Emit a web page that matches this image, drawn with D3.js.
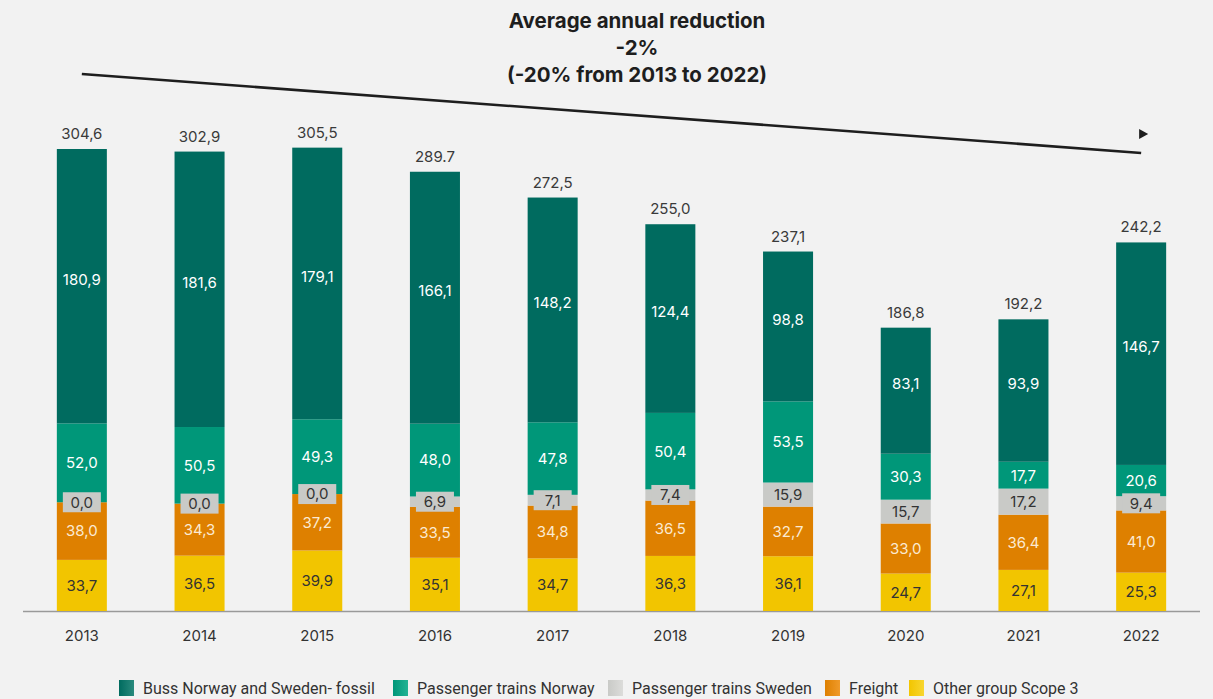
<!DOCTYPE html>
<html><head><meta charset="utf-8">
<script src="https://cdn.jsdelivr.net/npm/d3@7"></script>
<style>
html,body{margin:0;padding:0;background:#f2f2f2;}
svg{display:block;}
</style></head>
<body>
<svg id="chart" width="1213" height="699"></svg>
<script>
const years = ["2013","2014","2015","2016","2017","2018","2019","2020","2021","2022"];
const buss = [180.9,181.6,179.1,166.1,148.2,124.4,98.8,83.1,93.9,146.7];
const trainsNorway = [52.0,50.5,49.3,48.0,47.8,50.4,53.5,30.3,17.7,20.6];
const trainsSweden = [0.0,0.0,0.0,6.9,7.1,7.4,15.9,15.7,17.2,9.4];
const freight = [38.0,34.3,37.2,33.5,34.8,36.5,32.7,33.0,36.4,41.0];
const otherScope3 = [33.7,36.5,39.9,35.1,34.7,36.3,36.1,24.7,27.1,25.3];
const totalLabels = ["304,6","302,9","305,5","289.7","272,5","255,0","237,1","186,8","192,2","242,2"];
const seriesNames = ["Buss Norway and Sweden- fossil","Passenger trains Norway","Passenger trains Sweden","Freight","Other group Scope 3"];
const titleLines = ["Average annual reduction","-2%","(-20% from 2013 to 2022)"];
const trendValues = [354, 302]; // annotation line, in chart units (2013 -> 2022)

const colors = ["#006b5f","#009779","#c9cac7","#de8000","#f2c500"];
const colorsLight = ["#2a8a7d","#22b394","#dcdcda","#f09a2a","#f8d630"];
const labelColors = ["#ffffff","#ffffff","#333333","#fbead2","#333333"];

const fmt = v => v.toFixed(1).replace(".", ",");

const svg = d3.select("#chart");
const baseY = 611;
const x = d3.scaleBand().domain(years).range([23, 1200]).paddingInner(0.575).paddingOuter(0.2875);
const y = d3.scaleLinear().domain([0, 304.6]).range([baseY, 149]);

const rows = years.map((yr,i)=>({year:yr, s0:buss[i], s1:trainsNorway[i], s2:trainsSweden[i], s3:freight[i], s4:otherScope3[i]}));
const stack = d3.stack().keys(["s4","s3","s2","s1","s0"])(rows);

const defs = svg.append("defs");
colors.forEach((c,i)=>{
  const g = defs.append("linearGradient").attr("id","lg"+i).attr("x1","0").attr("x2","1").attr("y1","0").attr("y2","0");
  g.append("stop").attr("offset","0").attr("stop-color",c);
  g.append("stop").attr("offset","1").attr("stop-color",colorsLight[i]);
});

svg.append("line").attr("x1",23).attr("x2",1200).attr("y1",baseY+0.5).attr("y2",baseY+0.5)
  .attr("stroke","#9a9a9a").attr("stroke-width",1.5);

const keyIndex = {s0:0,s1:1,s2:2,s3:3,s4:4};
stack.forEach(layer=>{
  const k = keyIndex[layer.key];
  svg.append("g").selectAll("rect").data(layer).join("rect")
    .attr("x", d=>x(d.data.year))
    .attr("width", x.bandwidth())
    .attr("y", d=>y(d[1]))
    .attr("height", d=>Math.max(0, y(d[0])-y(d[1])))
    .attr("fill", colors[k]);
});

stack.forEach(layer=>{
  const k = keyIndex[layer.key];
  const g = svg.append("g");
  layer.forEach(d=>{
    const cx = x(d.data.year)+x.bandwidth()/2;
    let cy = (y(d[0])+y(d[1]))/2;
    if (k===0) cy -= 7;
    const v = d[1]-d[0];
    if (k===2) {
      g.append("rect").attr("x",cx-19).attr("y",cy-10).attr("width",38).attr("height",20).attr("fill",colors[2]);
    }
    g.append("text").attr("x",cx).attr("y",cy).attr("dy","0.36em")
      .attr("text-anchor","middle").attr("font-family","Inter, sans-serif").attr("font-size",15)
      .attr("fill",labelColors[k]).text(fmt(v));
  });
});

svg.append("g").selectAll("text").data(rows).join("text")
  .attr("x", d=>x(d.year)+x.bandwidth()/2)
  .attr("y", d=>y(d.s0+d.s1+d.s2+d.s3+d.s4)-10)
  .attr("text-anchor","middle").attr("font-family","Inter, sans-serif").attr("font-size",15)
  .attr("fill","#3a3a3a").text((d,i)=>totalLabels[i]);

const xAxis = d3.axisBottom(x).tickSize(0).tickPadding(19);
const ax = svg.append("g").attr("transform",`translate(0,${baseY})`).call(xAxis);
ax.select(".domain").remove();
ax.selectAll("text").attr("font-family","Inter, sans-serif").attr("font-size",15).attr("fill","#333");

svg.append("g").selectAll("text").data(titleLines).join("text")
  .attr("x",637).attr("y",(d,i)=>28+i*27)
  .attr("text-anchor","middle").attr("font-family","Inter, sans-serif").attr("font-weight",700)
  .attr("font-size",20.5).attr("fill","#1e1e1e").text(d=>d);

const x0 = x(years[0])+x.bandwidth()/2, x1 = x(years[years.length-1])+x.bandwidth()/2;
svg.append("line").attr("x1",x0).attr("y1",y(trendValues[0])).attr("x2",x1).attr("y2",y(trendValues[1]))
  .attr("stroke","#1e1e1e").attr("stroke-width",2.6);
const ax2 = x1, ay2 = y(trendValues[1]) - 19;
svg.append("path").attr("d",`M${ax2-2},${ay2-5} L${ax2+7},${ay2} L${ax2-2},${ay2+5} Z`).attr("fill","#1e1e1e");

const legendX = [119,393,608,825,909];
const lg = svg.append("g");
seriesNames.forEach((n,i)=>{
  lg.append("rect").attr("x",legendX[i]).attr("y",680).attr("width",15).attr("height",16).attr("fill",`url(#lg${i})`);
  lg.append("text").attr("x",legendX[i]+24).attr("y",688).attr("dy","0.36em")
    .attr("font-family","Roboto, sans-serif").attr("font-size",16).attr("fill","#333").text(n);
});
</script>
</body></html>
